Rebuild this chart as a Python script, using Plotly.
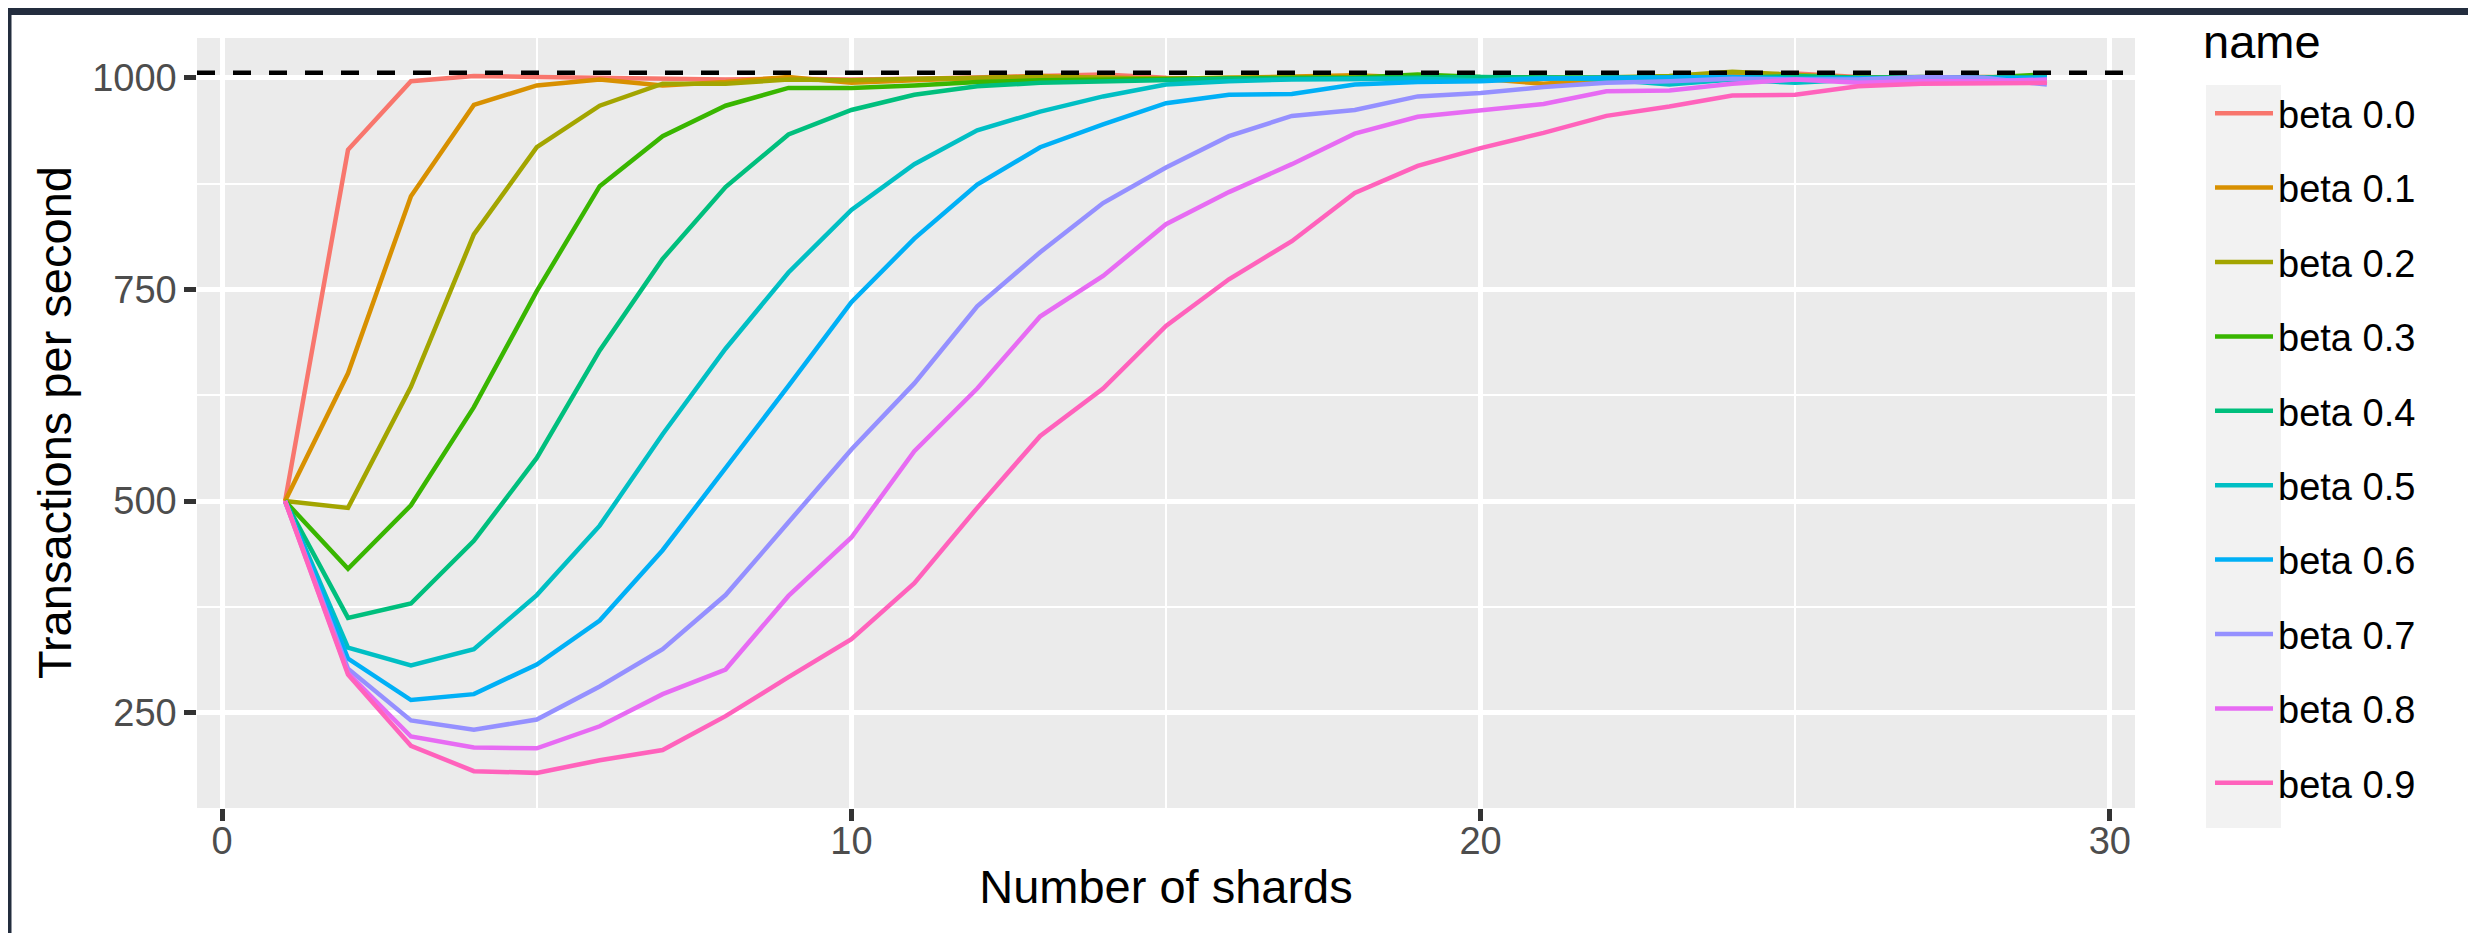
import plotly.graph_objects as go

# ---------------- data ----------------
shards = list(range(1, 30))

series_names = ["beta 0.0", "beta 0.1", "beta 0.2", "beta 0.3", "beta 0.4",
                "beta 0.5", "beta 0.6", "beta 0.7", "beta 0.8", "beta 0.9"]

series_colors = ["#F8766D", "#D89000", "#A3A500", "#39B600", "#00BF7D",
                 "#00BFC4", "#00B0F6", "#9590FF", "#E76BF3", "#FF62BC"]

tps_beta_00 = [500, 915, 996, 1002, 1001, 1000, 999, 998, 999, 998, 999, 1000, 1002, 1004, 1000,
               999, 1000, 1001, 1000, 998, 1000, 999, 1000, 1002, 1005, 1001, 1000, 999, 1000]
tps_beta_01 = [500, 651, 860, 968, 991, 998, 991, 995, 1001, 994, 997, 999, 1002, 1000, 999,
               1000, 1001, 1003, 1000, 999, 993, 998, 1000, 1006, 1001, 999, 1000, 1001, 1000]
tps_beta_02 = [500, 492, 635, 815, 918, 967, 993, 993, 998, 997, 999, 1000, 1001, 1000, 999,
               1000, 1000, 1001, 1000, 1000, 999, 1000, 1002, 1007, 1003, 1000, 1000, 1000, 1001]
tps_beta_03 = [500, 420, 495, 611, 748, 872, 931, 967, 988, 988, 991, 995, 997, 998, 998,
               999, 1000, 1000, 1004, 1001, 1000, 1000, 1001, 1000, 1000, 1000, 1001, 1000, 1004]
tps_beta_04 = [500, 362, 379, 453, 551, 678, 786, 871, 933, 962, 980, 990, 994, 996, 998,
               999, 999, 1000, 1000, 1001, 1000, 1000, 1001, 1000, 1002, 1000, 1000, 1000, 1000]
tps_beta_05 = [500, 327, 306, 325, 389, 471, 579, 680, 770, 844, 898, 938, 960, 978, 992,
               996, 998, 998, 999, 997, 1000, 998, 992, 998, 994, 998, 1000, 999, 1000]
tps_beta_06 = [500, 314, 265, 272, 307, 359, 442, 538, 636, 735, 810, 874, 918, 945, 970,
               980, 981, 992, 995, 996, 999, 1000, 1000, 1001, 999, 1000, 1000, 1000, 1000]
tps_beta_07 = [500, 302, 241, 230, 242, 281, 325, 389, 475, 561, 639, 730, 794, 852, 894,
               931, 955, 962, 978, 982, 989, 994, 996, 999, 998, 998, 1001, 1000, 992]
tps_beta_08 = [500, 297, 222, 209, 208, 234, 272, 301, 388, 457, 559, 633, 718, 766, 827,
               865, 898, 934, 954, 961, 969, 984, 985, 993, 998, 994, 996, 996, 998]
tps_beta_09 = [500, 295, 211, 181, 179, 194, 206, 246, 292, 337, 403, 492, 577, 633, 707,
               762, 807, 864, 896, 917, 935, 955, 966, 979, 980, 990, 993, 994, 994]

capacity_line = 1006

x_ticks = [0, 10, 20, 30]
x_minor = [5, 15, 25]
y_ticks = [250, 500, 750, 1000]
y_minor = [375, 625, 875]

x_title = "Number of shards"
y_title = "Transactions per second"
legend_title = "name"

series_values = [tps_beta_00, tps_beta_01, tps_beta_02, tps_beta_03, tps_beta_04,
                 tps_beta_05, tps_beta_06, tps_beta_07, tps_beta_08, tps_beta_09]

# ---------------- figure ----------------
W, H = 2476, 933
ML, MR, MT, MB = 189, 349, 30, 133
PW, PH = W - ML - MR, H - MT - MB


def px_x(p):
    return (p - ML) / PW


def px_y(p):
    return (H - MB - p) / PH


LW = 4.5
FONT = "Liberation Sans, Arial, Helvetica, sans-serif"
TICK_SIZE = 38
TITLE_SIZE = 47

fig = go.Figure()
for name, color, vals in zip(series_names, series_colors, series_values):
    fig.add_trace(go.Scatter(
        x=shards, y=vals, mode="lines", name=name, legendgroup=name,
        line=dict(color=color, width=LW),
        hoverinfo="skip",
    ))

fig.add_hline(y=capacity_line, line=dict(color="black", width=4.6, dash="18px,18px"), layer="above")

axis_common = dict(
    showgrid=True, gridcolor="white", gridwidth=LW,
    zeroline=False, showline=False,
    ticks="outside", ticklen=11.7, tickwidth=LW, tickcolor="#333333",
    tickfont=dict(family=FONT, size=TICK_SIZE, color="#4D4D4D"),
)

fig.update_layout(
    width=W, height=H, autosize=False,
    margin=dict(l=ML, r=MR, t=MT, b=MB, pad=0),
    paper_bgcolor="white", plot_bgcolor="#EBEBEB",
    font=dict(family=FONT, size=TICK_SIZE, color="black"),
    xaxis=dict(
        range=[-0.4, 30.4], tickmode="array", tickvals=x_ticks,
        ticktext=[str(v) for v in x_ticks],
        minor=dict(tickmode="array", tickvals=x_minor, showgrid=True,
                   gridcolor="white", gridwidth=LW / 2, ticks=""),
        ticklabelstandoff=-12,
        title=dict(text=x_title, font=dict(family=FONT, size=TITLE_SIZE, color="black"), standoff=8),
        **axis_common,
    ),
    yaxis=dict(
        range=[137.5, 1047], tickmode="array", tickvals=y_ticks,
        ticktext=[str(v) for v in y_ticks],
        minor=dict(tickmode="array", tickvals=y_minor, showgrid=True,
                   gridcolor="white", gridwidth=LW / 2, ticks=""),
        ticklabelstandoff=0,
        **axis_common,
    ),
    legend=dict(
        font=dict(family=FONT, size=TICK_SIZE, color="black"),
        x=px_x(2202), y=px_y(74), xanchor="left", yanchor="top",
        itemwidth=58, tracegroupgap=22, traceorder="grouped",
        bgcolor="rgba(0,0,0,0)", borderwidth=0, maxheight=900,
    ),
    showlegend=True,
)

# y-axis title, placed like ggplot's (rotated, centred on the panel)
fig.add_annotation(text=y_title, textangle=-90, xref="paper", yref="paper",
                   x=px_x(46), y=0.5, xanchor="center", yanchor="middle",
                   borderpad=0, showarrow=False,
                   font=dict(family=FONT, size=TITLE_SIZE, color="black"))

# legend title (ggplot places it well above the keys)
fig.add_annotation(text=legend_title, xref="paper", yref="paper",
                   x=px_x(2194), y=px_y(6), xanchor="left", yanchor="top",
                   borderpad=0, showarrow=False,
                   font=dict(family=FONT, size=TITLE_SIZE, color="black"))

# legend key background (grey95 like ggplot)
fig.add_shape(type="rect", xref="paper", yref="paper",
              x0=px_x(2198), x1=px_x(2273), y0=px_y(820), y1=px_y(77),
              fillcolor="#F2F2F2", line=dict(width=0), layer="below")

# dark frame of the screenshot
FRAME = "#232D3E"
fig.add_shape(type="rect", xref="paper", yref="paper",
              x0=px_x(0), x1=px_x(W), y0=px_y(7), y1=px_y(0),
              fillcolor=FRAME, line=dict(width=0), layer="above")
fig.add_shape(type="rect", xref="paper", yref="paper",
              x0=px_x(0), x1=px_x(3.5), y0=px_y(H), y1=px_y(0),
              fillcolor=FRAME, line=dict(width=0), layer="above")

fig.write_html("out.html")
